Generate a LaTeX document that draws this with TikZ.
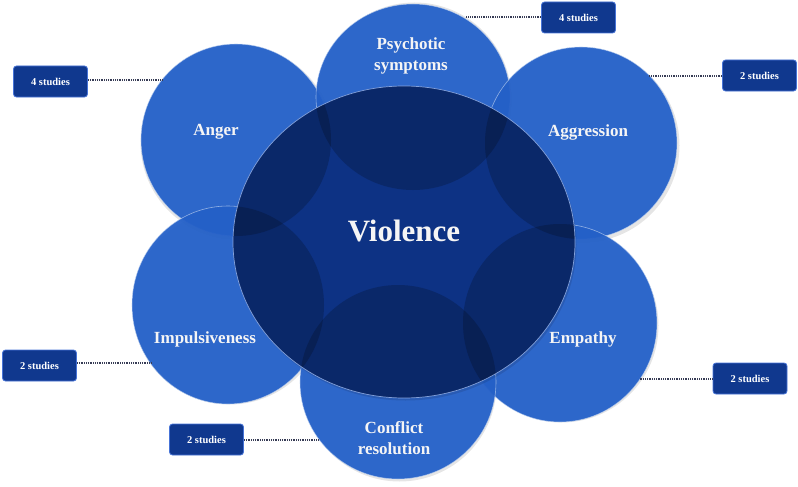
\documentclass[tikz,border=0pt]{standalone}
\usepackage{fontspec}
\setmainfont{Liberation Serif}
\definecolor{satblue}{RGB}{36,96,200}
\definecolor{satedge}{RGB}{190,210,240}
\definecolor{cenblue}{RGB}{13,50,132}
\definecolor{cenedge}{RGB}{150,178,232}
\definecolor{boxedge}{RGB}{70,115,215}
\definecolor{boxfill}{RGB}{16,56,142}
\definecolor{linkcol}{RGB}{55,60,85}
\definecolor{labtext}{RGB}{245,245,245}
\begin{document}
\begin{tikzpicture}[x=1pt,y=-1pt,
  satfill/.style={fill=satblue, fill opacity=0.95, draw=satedge, draw opacity=0.7, line width=0.6pt},
  shade/.style={fill=black, fill opacity=0.2, draw=none},
  lab/.style={text=labtext, font=\bfseries\fontsize{17}{21}\selectfont, align=center, inner sep=0pt},
  studybox/.style={draw=boxedge, line width=0.8pt, rounded corners=3pt,
                   fill=boxfill, text=white,
                   font=\bfseries\fontsize{10.5}{12}\selectfont, minimum width=74pt, minimum height=31pt, inner sep=0pt},
  link/.style={draw=linkcol, line width=1.1pt, dash pattern=on 1pt off 0.8pt}
]
\useasboundingbox (0,0) rectangle (798,487);
\def\angerC{(236,140) ellipse [x radius=95pt, y radius=96pt]}
\def\psyC{(413,97) ellipse [x radius=97pt, y radius=93pt]}
\def\aggC{(581,143) ellipse [x radius=96pt, y radius=96pt]}
\def\impC{(228,305) ellipse [x radius=96pt, y radius=99pt]}
\def\empC{(560,323) ellipse [x radius=97pt, y radius=99pt]}
\def\conC{(398,382) ellipse [x radius=98pt, y radius=97pt]}
% shadows
\foreach \c in {(236,140),(413,97),(581,143),(228,305),(560,323),(398,382)}{
  \fill[black, opacity=0.1] \c ++(1.5,2.5) circle [radius=97pt];
}
% satellites
\path[satfill] \angerC;
\path[satfill] \psyC;
\path[satfill] \aggC;
\path[satfill] \impC;
\path[satfill] \empC;
\path[satfill] \conC;
% central
\fill[black, opacity=0.1] (405.5,244.5) ellipse [x radius=171pt, y radius=156pt];
\fill[cenblue] (404,242) ellipse [x radius=171pt, y radius=156pt];
\begin{scope}
  \clip (404,242) ellipse [x radius=171pt, y radius=156pt];
  \path[shade] \angerC;
  \path[shade] \psyC;
  \path[shade] \aggC;
  \path[shade] \impC;
  \path[shade] \empC;
  \path[shade] \conC;
\end{scope}
\draw[cenedge, line width=0.7pt, opacity=0.85] (404,242) ellipse [x radius=171pt, y radius=156pt];
% labels
\node[lab, font=\bfseries\fontsize{31}{36}\selectfont] (vio) at (404,231) {Violence};
\node[lab] (anger) at (216,132) {Anger};
\node[lab] (psy) at (411,56) {Psychotic\\symptoms};
\node[lab] (agg) at (588,132) {Aggression};
\node[lab] (imp) at (205,339) {Impulsiveness};
\node[lab] (emp) at (583,339) {Empathy};
\node[lab] (con) at (394,438) {Conflict\\resolution};
% study boxes
\node[studybox] (bAnger) at (50.5,81.5) {4 studies};
\node[studybox] (bPsy) at (578.5,17.5) {4 studies};
\node[studybox] (bAgg) at (759.5,75.5) {2 studies};
\node[studybox] (bImp) at (39.5,365.5) {2 studies};
\node[studybox] (bCon) at (206.5,439.5) {2 studies};
\node[studybox] (bEmp) at (750,378.5) {2 studies};
% connector ends on circle edges
\coordinate (eAnger) at (163,80);
\coordinate (ePsy) at (466,17);
\coordinate (eAgg) at (649,76);
\coordinate (eImp) at (151,363);
\coordinate (eCon) at (319,440);
\coordinate (eEmp) at (639,379);
\draw[link] (bAnger.east |- eAnger) -- (eAnger);
\draw[link] (bPsy.west |- ePsy) -- (ePsy);
\draw[link] (bAgg.west |- eAgg) -- (eAgg);
\draw[link] (bImp.east |- eImp) -- (eImp);
\draw[link] (bCon.east |- eCon) -- (eCon);
\draw[link] (bEmp.west |- eEmp) -- (eEmp);
\end{tikzpicture}
\end{document}
